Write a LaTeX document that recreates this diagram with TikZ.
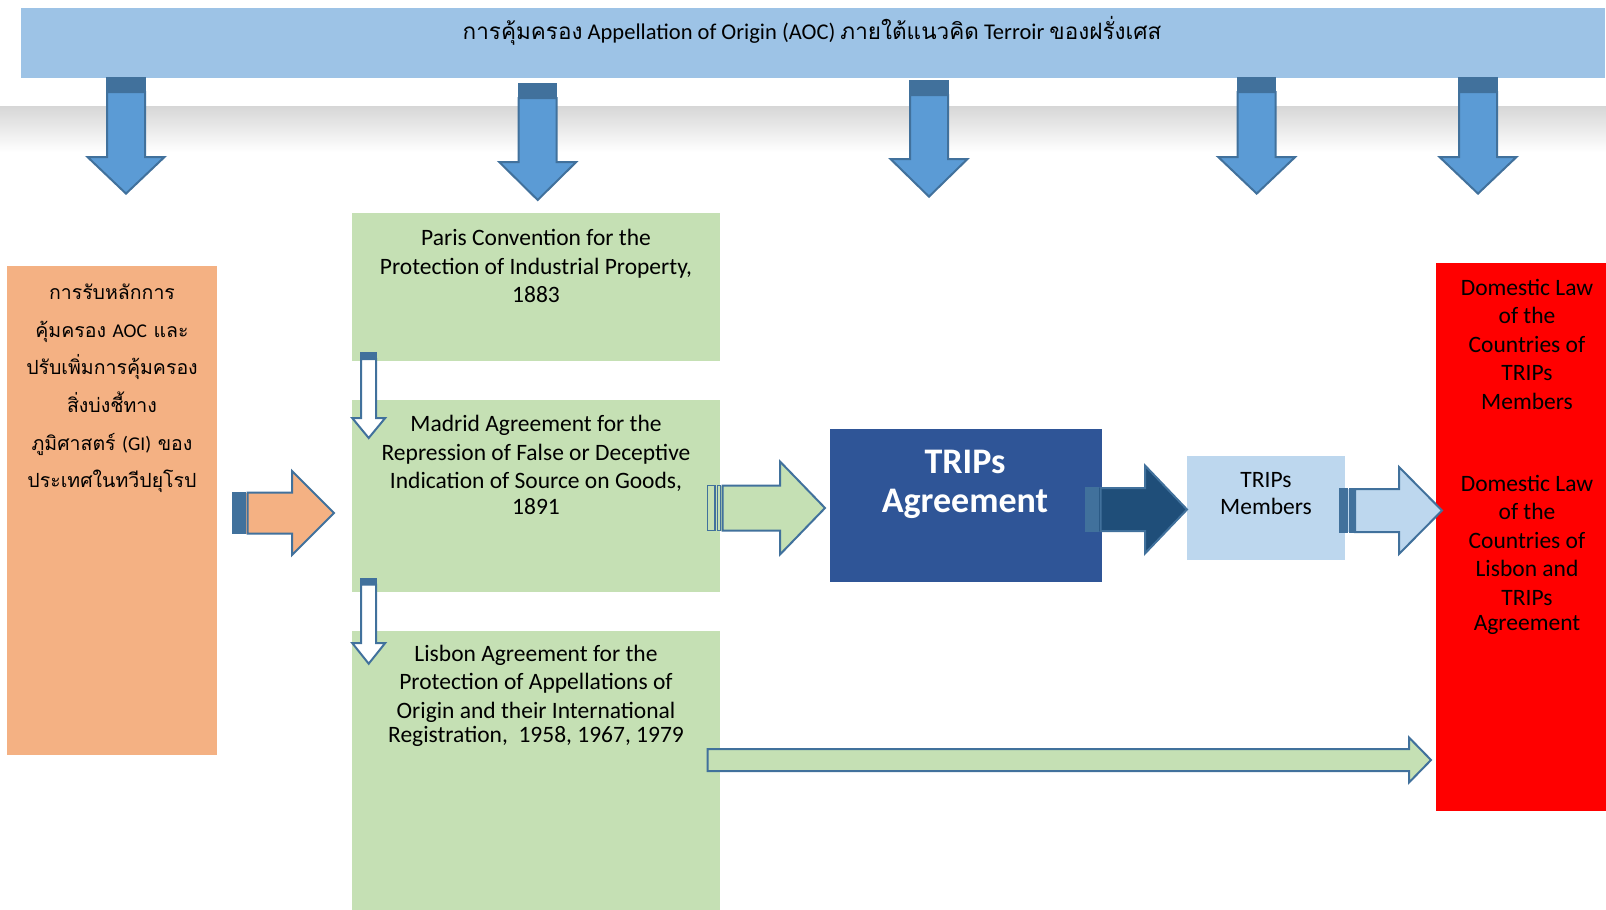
\documentclass[tikz,border=0pt]{standalone}
\usepackage{fontspec}
\setmainfont{Carlito}
\newfontfamily\thaifont[Script=Thai]{Loma}
\definecolor{banner}{HTML}{9DC3E6}
\definecolor{arrowblue}{HTML}{5B9BD5}
\definecolor{arrowline}{HTML}{41719C}
\definecolor{orangebox}{HTML}{F4B183}
\definecolor{greenbox}{HTML}{C5E0B4}
\definecolor{tripsbox}{HTML}{2F5597}
\definecolor{darkarrow}{HTML}{1F4E79}
\definecolor{memberbox}{HTML}{BDD7EE}
\definecolor{redbox}{HTML}{FF0000}
% right block arrow: tail, headbase, tip, cy, shaft half, head half, fill, stripe fill, stripe band
\newcommand\rblockarrow[9]{%
  \fill[#7] (#1,#4-#5) rectangle (#1+#9,#4+#5);
  \filldraw[fill=#8, draw=arrowline, line width=1.5] (#1,#4-#5) rectangle (#1+0.5*#9,#4+#5);
  \filldraw[fill=#8, draw=arrowline, line width=1.5] (#1+0.64*#9,#4-#5) rectangle (#1+0.86*#9,#4+#5);
  \filldraw[fill=#7, draw=arrowline, line width=2] (#1+#9,#4-#5) -- (#2,#4-#5) -- (#2,#4-#6) -- (#3,#4) -- (#2,#4+#6) -- (#2,#4+#5) -- (#1+#9,#4+#5) -- cycle;}
% down block arrow: cx, top, headbase, tip, shaft half, head half, fill, stripe fill, stripe band
\newcommand\dblockarrow[9]{%
  \fill[#7] (#1-#5,#2) rectangle (#1+#5,#2+#9);
  \filldraw[fill=#8, draw=arrowline, line width=1.5] (#1-#5,#2) rectangle (#1+#5,#2+0.5*#9);
  \filldraw[fill=#8, draw=arrowline, line width=1.5] (#1-#5,#2+0.64*#9) rectangle (#1+#5,#2+0.86*#9);
  \filldraw[fill=#7, draw=arrowline, line width=2] (#1-#5,#2+#9) -- (#1-#5,#3) -- (#1-#6,#3) -- (#1,#4) -- (#1+#6,#3) -- (#1+#5,#3) -- (#1+#5,#2+#9) -- cycle;}
\begin{document}
\begin{tikzpicture}[x=1pt,y=-1pt,
  box/.style={draw=none, inner sep=0, anchor=north west},
  txt/.style={inner sep=0, align=center, font=\fontsize{23.5}{28.5}\selectfont},
  thtxt/.style={inner sep=0, align=center, font=\thaifont\fontsize{19.5}{37.6}\selectfont}]
\useasboundingbox (0,0) rectangle (1606,910);
\fill[white] (0,0) rectangle (1606,910);
% shadow band
\shade[top color=black!16, bottom color=white] (0,106) rectangle (1606,152);
% banner
\node[box, fill=banner, minimum width=1584, minimum height=70] (banner) at (20.5,8) {};
\node[anchor=base, inner sep=0, font=\fontsize{22.5}{26}\selectfont] (bannertxt) at (812,39.5)
  {{\thaifont การคุ้มครอง} Appellation of Origin (AOC) {\thaifont ภายใต้แนวคิด} Terroir {\thaifont ของฝรั่งเศส}};
% boxes
\node[box, fill=orangebox, minimum width=209.8, minimum height=489] (gi) at (7.2,266) {};
\node[box, fill=greenbox, minimum width=368, minimum height=147.5] (paris) at (352,213) {};
\node[box, fill=greenbox, minimum width=368, minimum height=192.5] (madrid) at (352,399.5) {};
\node[box, fill=greenbox, minimum width=368, minimum height=280] (lisbon) at (352,631) {};
\node[box, fill=tripsbox, minimum width=271.5, minimum height=153] (trips) at (830,429) {};
\node[box, fill=memberbox, minimum width=158, minimum height=103.5] (members) at (1187,456) {};
\node[box, fill=redbox, minimum width=170, minimum height=548] (domestic) at (1436,263) {};
% texts
\node[thtxt, anchor=north] (gitxt) at (112,284)
  {การรับหลักการ\\คุ้มครอง {\rmfamily AOC} และ\\ปรับเพิ่มการคุ้มครอง\\สิ่งบ่งชี้ทาง\\ภูมิศาสตร์ {\rmfamily (GI)} ของ\\ประเทศในทวีปยุโรป};
\node[txt, anchor=north] (paristxt) at (536,229)
  {Paris Convention for the\\Protection of Industrial Property,\\1883};
\node[txt, anchor=north] (madridtxt) at (536,415)
  {Madrid Agreement for the\\Repression of False or Deceptive\\Indication of Source on Goods,\\[-3pt]1891};
\node[txt, anchor=north] (lisbontxt) at (536,644.5)
  {Lisbon Agreement for the\\Protection of Appellations of\\Origin and their International\\[-4pt]Registration,\ \ 1958, 1967, 1979};
\node[inner sep=0, align=center, anchor=north, text=white, font=\bfseries\fontsize{36}{38.7}\selectfont] (tripstxt) at (965,450)
  {TRIPs\\Agreement};
\node[txt, anchor=north, font=\fontsize{23.5}{27}\selectfont] (memberstxt) at (1266,472)
  {TRIPs\\Members};
\node[txt, anchor=north] (dom1txt) at (1527,279)
  {Domestic Law\\of the\\Countries of\\TRIPs\\Members};
\node[txt, anchor=north] (dom2txt) at (1527,475)
  {Domestic Law\\of the\\Countries of\\Lisbon and\\TRIPs\\[-3pt]Agreement};
% down arrows from banner
\dblockarrow{126}{78}{157}{193.6}{19}{38.5}{arrowblue}{arrowline}{14}
\dblockarrow{537.7}{84}{162}{200}{19}{38.5}{arrowblue}{arrowline}{14}
\dblockarrow{929}{81}{159}{196.6}{19}{38.5}{arrowblue}{arrowline}{14}
\dblockarrow{1256.7}{78}{157}{193.6}{19}{38.5}{arrowblue}{arrowline}{14}
\dblockarrow{1478}{78}{157}{193.6}{19}{38.5}{arrowblue}{arrowline}{14}
% small white arrows in green column
\dblockarrow{368.7}{353}{418}{438}{7.5}{16.5}{white}{arrowline}{6}
\dblockarrow{368.7}{578.7}{643}{663.7}{7.5}{16.5}{white}{arrowline}{6}
% right arrows
\rblockarrow{232.5}{292}{334}{513}{20.5}{42}{orangebox}{arrowline}{15}
\rblockarrow{707.7}{780}{825}{508}{22.5}{46.5}{greenbox}{greenbox}{15}
\rblockarrow{1085.6}{1145}{1187}{509.5}{21.5}{44}{darkarrow}{arrowline}{15}
\rblockarrow{1340}{1399}{1442}{510.5}{21.5}{43.5}{memberbox}{arrowline}{15}
% long arrow lisbon -> domestic law
\filldraw[fill=greenbox, draw=arrowline, line width=2] (707.7,749) -- (1409,749) -- (1409,737.5) -- (1431,760) -- (1409,782.5) -- (1409,771) -- (707.7,771) -- cycle;
\end{tikzpicture}
\end{document}
